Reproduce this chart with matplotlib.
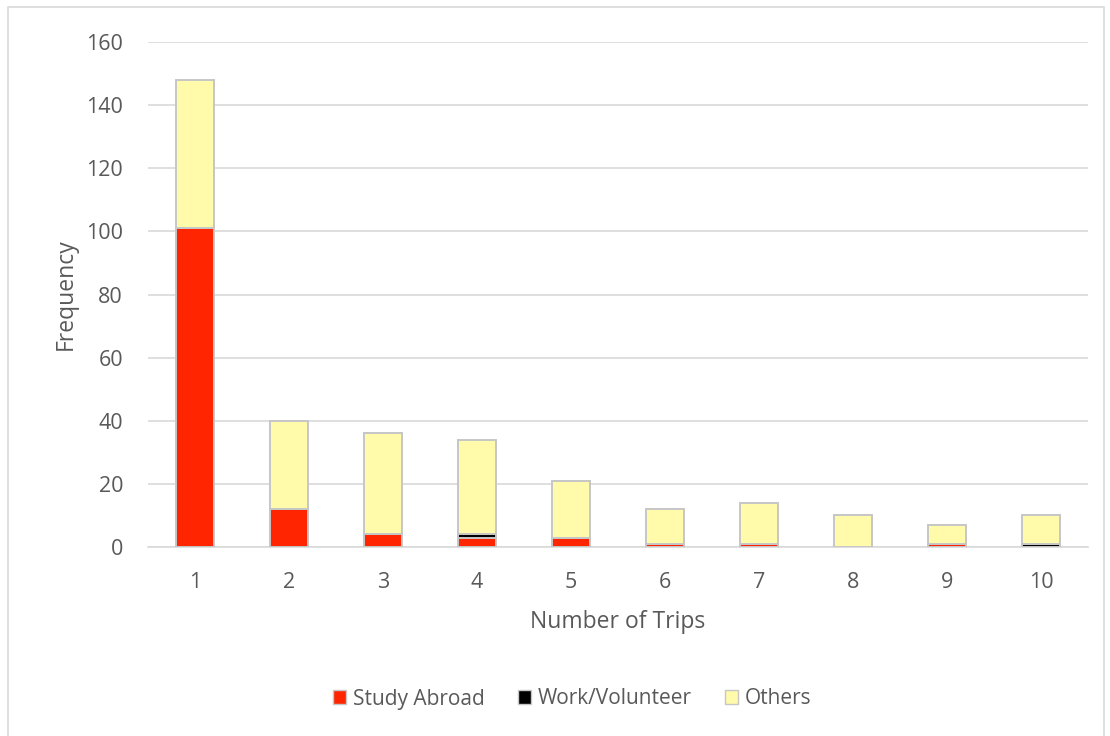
import numpy as np
import matplotlib
matplotlib.use('Agg')
import matplotlib.pyplot as plt
from matplotlib.patches import Patch, Rectangle

plt.rcParams['font.family'] = ['Open Sans', 'DejaVu Sans']

trips = [1, 2, 3, 4, 5, 6, 7, 8, 9, 10]
study_abroad = [101, 12, 4, 3, 3, 1, 1, 0, 1, 0]
work_volunteer = [0, 0, 0, 1, 0, 0, 0, 0, 0, 1]
others = [47, 28, 32, 30, 18, 11, 13, 10, 6, 9]
y_ticks = [0, 20, 40, 60, 80, 100, 120, 140, 160]

RED = '#FF2500'
BLACK = '#000000'
YELLOW = '#FFFBAA'
EDGE = '#C6C6C6'
TXT = '#595959'

fig = plt.figure(figsize=(11.1, 7.36), dpi=100)
ax = fig.add_axes([148 / 1110, 1 - 547 / 736, 940 / 1110, 505 / 736])

x = np.array(trips)
sa = np.array(study_abroad)
wv = np.array(work_volunteer)
ot = np.array(others)
w = 0.4
kw = dict(width=w, edgecolor=EDGE, linewidth=1.4, zorder=3)
ax.bar(x, sa, color=RED, label='Study Abroad', **kw)
ax.bar(x, wv, bottom=sa, color=BLACK, label='Work/Volunteer', **kw)
ax.bar(x, ot, bottom=sa + wv, color=YELLOW, label='Others', **kw)

ax.set_xlim(0.5, 10.5)
ax.set_ylim(0, 160)
ax.set_yticks(y_ticks)
ax.set_xticks(x)
ax.set_xticklabels([str(t) for t in trips])
ax.grid(axis='y', color='#D9D9D9', linewidth=1.2, zorder=0)
ax.set_axisbelow(True)
for s in ['top', 'right', 'left']:
    ax.spines[s].set_visible(False)
ax.spines['bottom'].set_color('#D9D9D9')
ax.spines['bottom'].set_linewidth(1.2)
ax.tick_params(axis='both', length=0, labelsize=15.5, colors=TXT)
ax.tick_params(axis='y', pad=18)
ax.tick_params(axis='x', pad=18)

ax.set_ylabel('Frequency', fontsize=16.5, color=TXT, labelpad=6)
ax.set_xlabel('Number of Trips', fontsize=16.5, color=TXT, labelpad=12)

handles = [Patch(facecolor=RED, edgecolor=EDGE, label='Study Abroad'),
           Patch(facecolor=BLACK, edgecolor=EDGE, label='Work/Volunteer'),
           Patch(facecolor=YELLOW, edgecolor=EDGE, label='Others')]
leg = fig.legend(handles=handles, loc='center', bbox_to_anchor=(572 / 1110, 1 - 699 / 736),
                 ncol=3, frameon=False, fontsize=15, handlelength=0.65, handleheight=0.65,
                 handletextpad=0.3, columnspacing=1.6)
for t in leg.get_texts():
    t.set_color(TXT)

fig.patches.append(Rectangle((8 / 1110, -0.01), 1096 / 1110, 1 - 7 / 736 + 0.01,
                             transform=fig.transFigure, fill=False,
                             edgecolor='#D9D9D9', linewidth=1.2))

plt.savefig('out.png', dpi=100)
plt.close()
